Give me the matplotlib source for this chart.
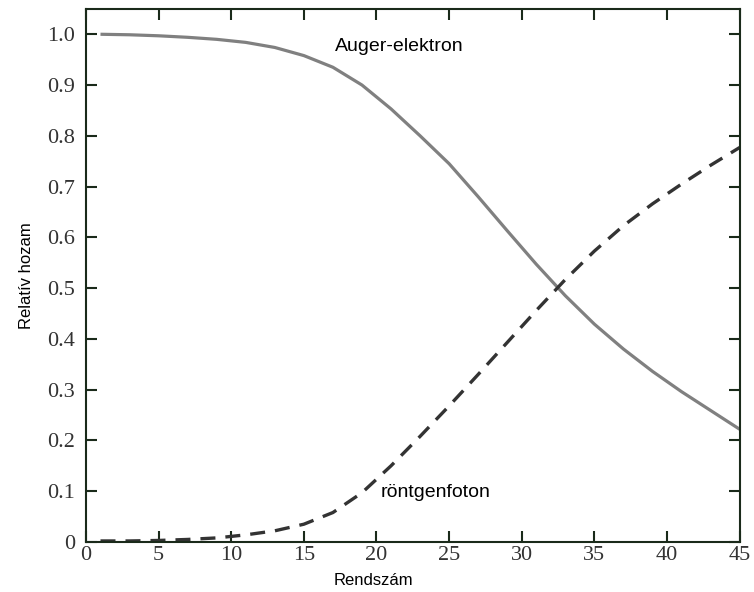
import matplotlib.pyplot as plt

# Atomic number
z = [1, 3, 5, 7, 9, 11, 13, 15, 17, 19, 21, 23, 25, 27, 29, 31, 33, 35, 37, 39, 41, 43, 45]

# Auger electron yield
auger = [1.0, 0.999, 0.997, 0.994, 0.99, 0.984, 0.974, 0.958, 0.935, 0.9, 0.853, 0.8,
         0.745, 0.68, 0.613, 0.547, 0.485, 0.429, 0.38, 0.336, 0.296, 0.259, 0.222]

# X-ray photon yield
xray = [0.002, 0.002, 0.003, 0.005, 0.008, 0.014, 0.022, 0.035, 0.058, 0.097, 0.15, 0.208,
        0.268, 0.33, 0.393, 0.456, 0.517, 0.573, 0.623, 0.666, 0.705, 0.742, 0.777]

x_ticks = [0, 5, 10, 15, 20, 25, 30, 35, 40, 45]
y_ticks = [0, 0.1, 0.2, 0.3, 0.4, 0.5, 0.6, 0.7, 0.8, 0.9, 1.0]
y_labels = ["0", "0.1", "0.2", "0.3", "0.4", "0.5", "0.6", "0.7", "0.8", "0.9", "1.0"]

fig = plt.figure(figsize=(7.54, 5.92), dpi=100)
ax = fig.add_axes([0.114, 0.0845, 0.867, 0.9005])

ax.plot(z, auger, color="#808080", linewidth=2.3, solid_capstyle="butt",
        solid_joinstyle="round")
ax.plot(z, xray, color="#333333", linewidth=2.4, dashes=(4.5, 3))

ax.set_xlim(0, 45)
ax.set_ylim(0, 1.05)

ax.set_xticks(x_ticks)
ax.set_xticklabels([str(t) for t in x_ticks])
ax.set_yticks(y_ticks)
ax.set_yticklabels(y_labels)

ax.tick_params(direction="in", length=8, width=1.5, color="#1a2a1a",
               top=True, right=True, labelsize=16)
ax.tick_params(axis="x", pad=3)
ax.tick_params(axis="y", pad=8)
for lab in ax.get_xticklabels() + ax.get_yticklabels():
    lab.set_family("Liberation Serif")
    lab.set_color("#333333")

for sp in ax.spines.values():
    sp.set_linewidth(1.5)
    sp.set_color("#1a2a1a")

ax.set_xlabel("Rendszám", family="Liberation Sans", fontsize=12, labelpad=2)
ax.xaxis.set_label_coords(0.439, -0.058)
ax.set_ylabel("Relatív hozam", family="Liberation Sans", fontsize=12, labelpad=9)

ax.text(21.55, 0.975, "Auger-elektron", family="Liberation Sans", fontsize=14,
        ha="center", va="center")
ax.text(24.1, 0.098, "röntgenfoton", family="Liberation Sans", fontsize=14,
        ha="center", va="center")

plt.savefig("out.png", dpi=100)
